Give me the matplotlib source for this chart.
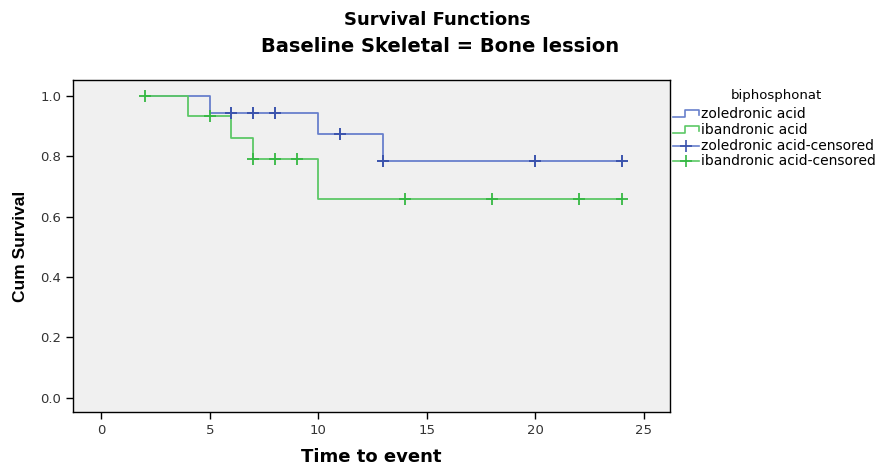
import matplotlib
matplotlib.use("Agg")
import matplotlib.pyplot as plt
from matplotlib.lines import Line2D

plt.rcParams['font.family'] = ['DejaVu Sans']

# Kaplan-Meier steps (time, survival after event)
zol_times = [2, 5, 10, 13, 24]
zol_surv = [1.0, 0.944, 0.873, 0.786, 0.786]
zol_cens_t = [6, 7, 8, 11, 13, 20, 24]
zol_cens_s = [0.944, 0.944, 0.944, 0.873, 0.786, 0.786, 0.786]

iba_times = [2, 4, 6, 7, 10, 24]
iba_surv = [1.0, 0.933, 0.862, 0.79, 0.659, 0.659]
iba_cens_t = [2, 5, 7, 8, 9, 14, 18, 22, 24]
iba_cens_s = [1.0, 0.933, 0.79, 0.79, 0.79, 0.659, 0.659, 0.659, 0.659]

xticks = [0, 5, 10, 15, 20, 25]
yticks = [0.0, 0.2, 0.4, 0.6, 0.8, 1.0]

blue = '#6880cc'
blue_d = '#3b53ad'
green = '#5cc866'
green_d = '#35b843'

fig = plt.figure(figsize=(8.81, 4.66), dpi=100)
ax = fig.add_axes([73 / 881, 1 - 412 / 466, 597 / 881, 332 / 466])
ax.set_facecolor('#f0f0f0')

ax.step(zol_times, zol_surv, where='post', color=blue, lw=1.3)
ax.step(iba_times, iba_surv, where='post', color=green, lw=1.3)
ax.plot(zol_cens_t, zol_cens_s, ls='none', marker='+', ms=8, mew=1.4, color=blue_d)
ax.plot(iba_cens_t, iba_cens_s, ls='none', marker='+', ms=8, mew=1.3, color=green_d)

ax.set_xlim(-1.3, 26.2)
ax.set_ylim(-0.047, 1.053)
ax.set_xticks(xticks)
ax.set_yticks(yticks)
ax.set_yticklabels(['%.1f' % v for v in yticks])
ax.tick_params(direction='out', length=5, width=1, labelsize=9.5, colors='black', labelcolor='#333333')
for s in ax.spines.values():
    s.set_linewidth(1)

ax.set_xlabel('Time to event', fontsize=13, fontweight='bold', labelpad=8)
ax.set_ylabel('Cum Survival', fontsize=12.5, fontweight='bold', labelpad=9,
              family=['Liberation Sans'])

fig.text(437 / 881, 1 - 20 / 466, 'Survival Functions', ha='center', va='center',
         fontsize=13, fontweight='bold')
fig.text(440 / 881, 1 - 47 / 466, 'Baseline Skeletal = Bone lession', ha='center', va='center',
         fontsize=14, fontweight='bold')

# legend drawn by hand, clipped at the figure edge like the original
fig.text(776 / 881, 1 - 95 / 466, 'biphosphonat', ha='center', va='center', fontsize=9.5)
labels = ['zoledronic acid', 'ibandronic acid', 'zoledronic acid-censored', 'ibandronic acid-censored']
rows = [114, 130, 146, 161]
for i, (lab, yy) in enumerate(zip(labels, rows)):
    c = blue if i % 2 == 0 else green
    y = 1 - yy / 466
    if i < 2:
        xs = [673, 685, 685, 699, 699]
        ys = [yy + 3, yy + 3, yy - 4, yy - 4, yy + 1]
        fig.add_artist(Line2D([x / 881 for x in xs], [1 - v / 466 for v in ys], color=c, lw=1.2))
    else:
        cd = blue_d if i % 2 == 0 else green_d
        fig.add_artist(Line2D([673 / 881, 699 / 881], [y, y], color=c, lw=1.2))
        fig.add_artist(Line2D([686 / 881], [y], marker='+', ms=8, mew=1.2, color=cd))
    fig.text(701 / 881, y, lab, ha='left', va='center', fontsize=10)

fig.savefig('out.png', dpi=100)
